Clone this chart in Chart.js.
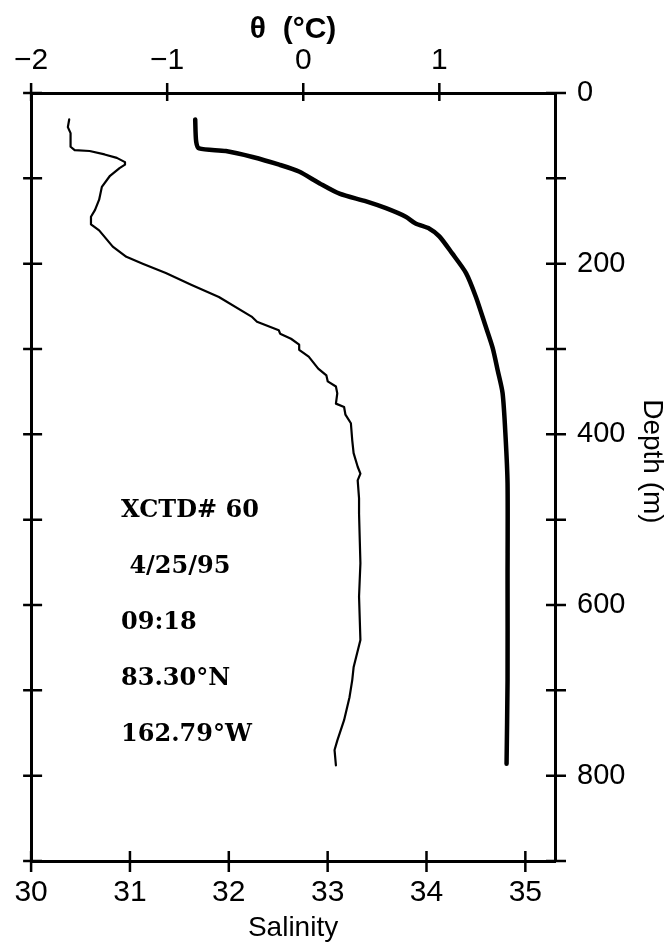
<!DOCTYPE html>
<html>
<head>
<meta charset="utf-8">
<script src="https://cdn.jsdelivr.net/npm/chart.js@4.4.0/dist/chart.umd.min.js"></script>
<style>
  html, body { margin: 0; padding: 0; background: #fff; }
  #wrap { width: 669px; height: 945px; }
</style>
</head>
<body>
<div id="wrap"><canvas id="profileChart" width="669" height="945"></canvas></div>
<script>
// XCTD #60 profile - potential temperature and salinity vs depth
const thetaDepth = [31, 40, 47, 63, 67, 68, 72, 76, 81, 84, 88, 97, 110, 125, 137, 145, 154, 161, 180, 192,
  200, 211, 225, 239, 262, 268, 278, 282, 288, 295, 301, 309, 323, 331, 338, 344, 352, 364, 368, 377,
  387, 407, 422, 438, 446, 454, 475, 493, 551, 590, 641, 673, 688, 708, 735, 759, 770, 788];
const thetaValues = [-1.72, -1.73, -1.71, -1.71, -1.68, -1.57, -1.46, -1.37, -1.31, -1.31, -1.35, -1.42, -1.48, -1.50, -1.53, -1.56, -1.56, -1.50, -1.40, -1.30,
  -1.18, -1.01, -0.82, -0.62, -0.38, -0.34, -0.18, -0.17, -0.09, -0.03, -0.03, 0.04, 0.11, 0.17, 0.18, 0.24, 0.25, 0.24, 0.30, 0.31,
  0.35, 0.36, 0.37, 0.40, 0.42, 0.40, 0.41, 0.41, 0.42, 0.41, 0.42, 0.37, 0.36, 0.34, 0.30, 0.25, 0.23, 0.24];

const salinityDepth = [31, 57, 65, 68, 75, 84, 92, 106, 118, 127, 135, 145, 153, 159, 168, 188, 211, 239,
  274, 299, 325, 352, 403, 458, 571, 688, 786];
const salinityValues = [31.66, 31.67, 31.70, 31.97, 32.24, 32.51, 32.71, 32.92, 33.12, 33.39, 33.59, 33.79, 33.89, 34.03, 34.13, 34.26, 34.40, 34.50,
  34.60, 34.67, 34.72, 34.77, 34.80, 34.82, 34.82, 34.82, 34.81];

const thetaTicks = [-2, -1, 0, 1];
const salinityTicks = [30, 31, 32, 33, 34, 35];
const depthTicks = [0, 100, 200, 300, 400, 500, 600, 700, 800, 900];
const depthLabels = [0, 200, 400, 600, 800];
const stationInfo = ["XCTD# 60", " 4/25/95", "09:18", "83.30°N", "162.79°W"];

const sansFont = "'Liberation Sans', Arial, sans-serif";

const toPoints = (xs, ys) => xs.map((v, i) => ({ x: v, y: ys[i] }));
const setTicks = (list) => (scale) => { scale.ticks = list.map((v) => ({ value: v })); };
const minusLabel = (v) => (v < 0 ? "\u2212" + Math.abs(v) : String(v));

// tick marks that cross the axis line, plus the station text block
const frameExtras = {
  id: "frameExtras",
  afterDraw(chart) {
    const { ctx, chartArea: a, scales } = chart;
    ctx.save();
    ctx.strokeStyle = "#000";
    ctx.lineWidth = 2.5;
    ctx.beginPath();
    scales.xT.ticks.forEach((t) => {
      const p = scales.xT.getPixelForValue(t.value);
      ctx.moveTo(p, a.top - 10);
      ctx.lineTo(p, a.top + 8);
    });
    scales.xS.ticks.forEach((t) => {
      const p = scales.xS.getPixelForValue(t.value);
      ctx.moveTo(p, a.bottom - 10);
      ctx.lineTo(p, a.bottom + 11);
    });
    scales.yL.ticks.forEach((t) => {
      const p = scales.yL.getPixelForValue(t.value);
      ctx.moveTo(a.left - 8, p);
      ctx.lineTo(a.left + 11, p);
    });
    scales.y.ticks.forEach((t) => {
      const p = scales.y.getPixelForValue(t.value);
      ctx.moveTo(a.right - 9, p);
      ctx.lineTo(a.right + 11, p);
    });
    ctx.stroke();

    ctx.fillStyle = "#000";
    ctx.font = "bold 24px 'DejaVu Serif', serif";
    ctx.textBaseline = "middle";
    ctx.textAlign = "left";
    const x0 = scales.xS.getPixelForValue(30.91);
    stationInfo.forEach((line, i) => {
      ctx.fillText(line, x0, scales.y.getPixelForValue(490 + i * 65.5));
    });
    ctx.restore();
  },
};

const ctx = document.getElementById("profileChart").getContext("2d");
new Chart(ctx, {
  type: "scatter",
  data: {
    datasets: [
      {
        label: "θ",
        data: toPoints(thetaValues, thetaDepth),
        xAxisID: "xT",
        yAxisID: "y",
        showLine: true,
        borderColor: "#000",
        borderWidth: 2.2,
        pointRadius: 0,
        borderJoinStyle: "round",
        borderCapStyle: "round",
      },
      {
        label: "Salinity",
        data: toPoints(salinityValues, salinityDepth),
        xAxisID: "xS",
        yAxisID: "y",
        showLine: true,
        tension: 0.25,
        borderColor: "#000",
        borderWidth: 4.5,
        pointRadius: 0,
        borderJoinStyle: "round",
        borderCapStyle: "round",
      },
    ],
  },
  options: {
    responsive: false,
    animation: false,
    layout: { padding: 0 },
    plugins: { legend: { display: false }, tooltip: { enabled: false } },
    scales: {
      xT: {
        type: "linear",
        position: "top",
        min: -2,
        max: 1.85,
        afterBuildTicks: setTicks(thetaTicks),
        afterFit: (s) => { s.height = 93; },
        grid: { display: false, drawTicks: false },
        border: { color: "#000", width: 3 },
        ticks: {
          color: "#000",
          padding: 14,
          maxRotation: 0,
          font: { family: sansFont, size: 30 },
          callback: minusLabel,
        },
        title: {
          display: true,
          text: "θ  (°C)",
          color: "#000",
          padding: { top: 12, bottom: 0 },
          font: { family: sansFont, size: 30, weight: "bold" },
        },
      },
      xS: {
        type: "linear",
        position: "bottom",
        min: 30,
        max: 35.3,
        afterBuildTicks: setTicks(salinityTicks),
        afterFit: (s) => { s.height = 84; },
        grid: { display: false, drawTicks: false },
        border: { color: "#000", width: 3 },
        ticks: {
          color: "#000",
          padding: 14,
          maxRotation: 0,
          font: { family: sansFont, size: 30 },
        },
        title: {
          display: true,
          text: "Salinity",
          color: "#000",
          padding: { top: 0, bottom: 0 },
          font: { family: sansFont, size: 28 },
        },
      },
      yL: {
        type: "linear",
        position: "left",
        reverse: true,
        min: 0,
        max: 900,
        afterBuildTicks: setTicks(depthTicks),
        afterFit: (s) => { s.width = 27; },
        grid: { display: false, drawTicks: false },
        border: { color: "#000", width: 3 },
        ticks: { display: false },
      },
      y: {
        type: "linear",
        position: "right",
        reverse: true,
        min: 0,
        max: 900,
        afterBuildTicks: setTicks(depthTicks),
        afterFit: (s) => { s.width = 114; },
        grid: { display: false, drawTicks: false },
        border: { color: "#000", width: 3 },
        ticks: {
          color: "#000",
          padding: 22,
          font: { family: sansFont, size: 29 },
          callback: (v) => (depthLabels.includes(v) ? String(v) : ""),
        },
        title: {
          display: true,
          text: "Depth (m)    ",
          color: "#000",
          padding: { top: 0, bottom: 0 },
          font: { family: sansFont, size: 28 },
        },
      },
    },
  },
  plugins: [frameExtras],
});
</script>
</body>
</html>
